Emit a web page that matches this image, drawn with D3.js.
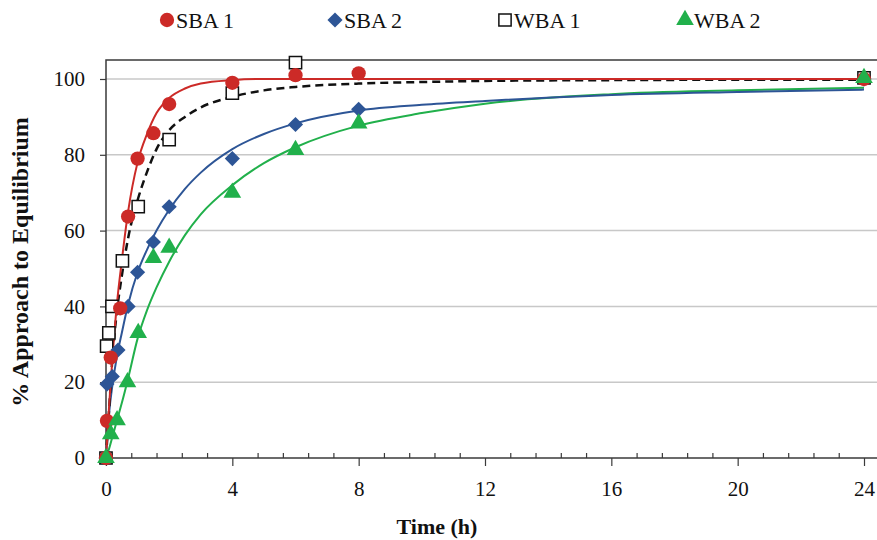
<!DOCTYPE html>
<html>
<head>
<meta charset="utf-8">
<script src="https://cdn.jsdelivr.net/npm/d3@7"></script>
<style>
  body { margin: 0; background: #fff; }
  svg text { font-family: "Liberation Serif", "Times New Roman", serif; }
</style>
</head>
<body>
<script>
// measured points
var sba1Time = [0, 0.03, 0.15, 0.45, 0.7, 1, 1.5, 2, 4, 6, 8, 24];
var sba1Obs  = [0, 9.8, 26.5, 39.5, 63.7, 79, 85.7, 93.4, 99, 101, 101.5, 100];

var sba2Time = [0, 0.03, 0.2, 0.38, 0.7, 1, 1.5, 2, 4, 6, 8, 24];
var sba2Obs  = [0, 19.5, 21.5, 28.5, 40, 49, 57, 66.3, 79, 88, 92, 100];

var wba1Time = [0, 0.02, 0.09, 0.19, 0.52, 1.02, 2, 4, 6, 24];
var wba1Obs  = [0, 29.5, 33, 40, 52, 66.3, 84, 96.3, 104.3, 100.3];

var wba2Time = [0, 0.15, 0.35, 0.68, 1.02, 1.5, 2, 4, 6, 8, 24];
var wba2Obs  = [0, 6.3, 10, 20, 33, 52.8, 55.5, 70, 81.3, 88.3, 100.3];

// fitted curves
var fitTime = [0, 0.1, 0.2, 0.35, 0.5, 0.7, 1, 1.3, 1.6, 2, 2.5, 3, 4, 5, 6, 8, 10, 12, 16, 20, 24];
var sba1Fit = [0, 14, 26, 41, 52, 65, 78, 85.5, 91, 95, 97.5, 98.8, 99.7, 100, 100, 100, 100, 100, 100, 100, 100];
var wba1Fit = [0, 13, 26, 39, 48, 58, 68, 75.5, 81.5, 86.5, 90, 92.5, 95.3, 97, 97.9, 98.8, 99.2, 99.5, 99.7, 99.8, 99.8];
var sba2Fit = [0, 12, 19, 27, 33, 40.5, 49, 55, 60, 65.5, 71, 75.3, 81.5, 85.5, 88.3, 91.7, 93.2, 94.2, 95.8, 96.6, 97.2];
var wba2Fit = [0, 2.5, 5.5, 10, 14.5, 21, 31.5, 39, 45, 51.8, 58.8, 64.3, 72, 77.8, 82, 87.7, 91, 93.5, 96, 97, 97.7];

var xTicks = [0, 4, 8, 12, 16, 20, 24];
var yTicks = [0, 20, 40, 60, 80, 100];

var seriesNames = ['SBA 1', 'SBA 2', 'WBA 1', 'WBA 2'];
var colors = {'SBA 1': '#cc2a27', 'SBA 2': '#2d5596', 'WBA 1': '#111111', 'WBA 2': '#21b04b'};

var width = 877, height = 540;
var serif = '"Liberation Serif", "Times New Roman", serif';
var svg = d3.select('body').append('svg').attr('width', width).attr('height', height);

var x = d3.scaleLinear().domain([0, 24]).range([106, 864]);
var y = d3.scaleLinear().domain([0, 100]).range([458, 79]);

// gridlines
svg.append('g').selectAll('line')
    .data(yTicks.filter(function (d) { return d > 0; }))
    .enter().append('line')
    .attr('x1', 106).attr('x2', width)
    .attr('y1', function (d) { return y(d); })
    .attr('y2', function (d) { return y(d); })
    .attr('stroke', '#c8c8c8').attr('stroke-width', 1.5);

// plot border (top + left)
svg.append('path')
    .attr('d', 'M106,458 V60 H' + (width + 2))
    .attr('fill', 'none').attr('stroke', '#3a3a3a').attr('stroke-width', 1.5);

// x axis
var minor = d3.range(0, 24.5, 0.8).filter(function (d) { return Math.abs(d / 4 - Math.round(d / 4)) > 0.01; });
var gxMinor = svg.append('g').attr('transform', 'translate(0,458)')
    .call(d3.axisBottom(x).tickValues(minor).tickSize(-5).tickFormat(''));
gxMinor.select('.domain').remove();
gxMinor.selectAll('line').attr('stroke', '#3a3a3a').attr('stroke-width', 1.2);

var gx = svg.append('g').attr('transform', 'translate(0,458)')
    .call(d3.axisBottom(x).tickValues(xTicks).tickSize(8).tickPadding(15).tickSizeOuter(0))
    .attr('font-family', serif).attr('font-size', 21);
gx.select('.domain').attr('d', 'M106,0H' + (width + 2)).attr('stroke', '#3a3a3a').attr('stroke-width', 1.5);
gx.selectAll('line').attr('stroke', '#3a3a3a').attr('stroke-width', 1.2);
gx.selectAll('text').attr('fill', '#111');

// y axis
var gy = svg.append('g').attr('transform', 'translate(106,0)')
    .call(d3.axisLeft(y).tickValues(yTicks).tickSize(6).tickPadding(15).tickSizeOuter(0))
    .attr('font-family', serif).attr('font-size', 21);
gy.select('.domain').remove();
gy.selectAll('line').attr('stroke', '#3a3a3a').attr('stroke-width', 1.2);
gy.selectAll('text').attr('fill', '#111');

// axis titles
svg.append('text').attr('x', 437).attr('y', 534).attr('text-anchor', 'middle')
    .attr('font-family', serif)
    .attr('font-size', 22).attr('font-weight', 'bold').attr('fill', '#111').text('Time (h)');
svg.append('text').attr('transform', 'translate(28,262) rotate(-90)').attr('text-anchor', 'middle')
    .attr('font-family', serif)
    .attr('font-size', 24).attr('font-weight', 'bold').attr('fill', '#111').text('% Approach to Equilibrium');

// fitted lines
var line = d3.line()
    .x(function (d) { return x(d[0]); })
    .y(function (d) { return y(d[1]); })
    .curve(d3.curveMonotoneX);

function zip(t, v) { return t.map(function (d, i) { return [d, v[i]]; }); }

var fits = [
    {name: 'WBA 2', data: zip(fitTime, wba2Fit), dash: null},
    {name: 'SBA 2', data: zip(fitTime, sba2Fit), dash: null},
    {name: 'WBA 1', data: zip(fitTime, wba1Fit), dash: '8,5'},
    {name: 'SBA 1', data: zip(fitTime, sba1Fit), dash: null}
];
svg.append('g').selectAll('path').data(fits).enter().append('path')
    .attr('d', function (d) { return line(d.data); })
    .attr('fill', 'none')
    .attr('stroke', function (d) { return colors[d.name]; })
    .attr('stroke-width', function (d) { return d.dash ? 2.5 : 2; })
    .attr('stroke-dasharray', function (d) { return d.dash; });

// markers
var symbols = {
    'SBA 1': d3.symbol().type(d3.symbolCircle).size(160),
    'SBA 2': d3.symbol().type(d3.symbolSquare).size(115),
    'WBA 1': d3.symbol().type(d3.symbolSquare).size(150),
    'WBA 2': d3.symbol().type(d3.symbolTriangle).size(135)
};
var rot = {'SBA 2': 45};
function drawMarkers(name, t, v) {
    var isSquare = name === 'WBA 1';
    svg.append('g').selectAll('path').data(zip(t, v)).enter().append('path')
        .attr('transform', function (d) {
            return 'translate(' + x(d[0]) + ',' + y(d[1]) + ') rotate(' + (rot[name] || 0) + ')';
        })
        .attr('d', symbols[name])
        .attr('fill', isSquare ? '#fff' : colors[name])
        .attr('stroke', isSquare ? '#111' : 'none')
        .attr('stroke-width', 1.5);
}
drawMarkers('WBA 1', wba1Time, wba1Obs);
drawMarkers('SBA 2', sba2Time, sba2Obs);
drawMarkers('SBA 1', sba1Time, sba1Obs);
drawMarkers('WBA 2', wba2Time, wba2Obs);

// legend
var legendX = [167, 335, 505, 685];
var legend = svg.append('g').selectAll('g').data(seriesNames).enter().append('g')
    .attr('transform', function (d, i) { return 'translate(' + legendX[i] + ',20) rotate(' + (rot[d] || 0) + ')'; });
legend.append('path')
    .attr('d', function (d) { return symbols[d](); })
    .attr('fill', function (d) { return d === 'WBA 1' ? '#fff' : colors[d]; })
    .attr('stroke', function (d) { return d === 'WBA 1' ? '#111' : 'none'; })
    .attr('stroke-width', 1.5);
svg.append('g').selectAll('text').data(seriesNames).enter().append('text')
    .attr('x', function (d, i) { return legendX[i] + 9; }).attr('y', 28)
    .attr('font-family', serif)
    .attr('font-size', 22).attr('fill', '#111')
    .text(function (d) { return d; });
</script>
</body>
</html>
